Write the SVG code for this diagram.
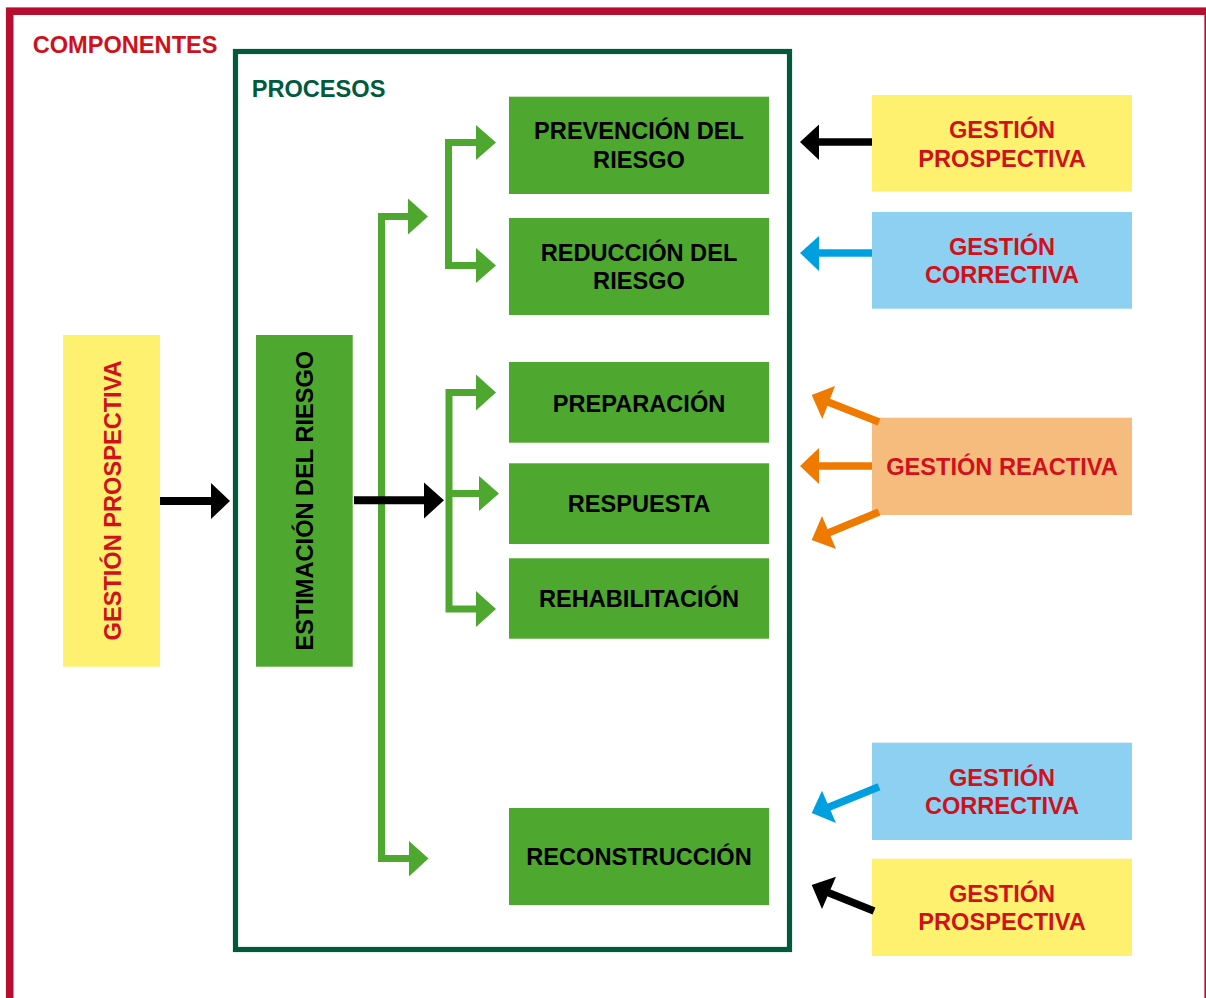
<svg xmlns="http://www.w3.org/2000/svg" width="1206" height="998" viewBox="0 0 1206 998">
<style>
.t{font-family:"Liberation Sans",Arial,sans-serif;font-weight:bold;font-size:23.6px;text-anchor:middle}
.red{fill:#D0111B}
.blk{fill:#000}
.g{fill:#4EA72E}
.y{fill:#FFF170}
.b{fill:#8ED0F2}
.o{fill:#F6BC7E}
.gl{stroke:#4EA72E;stroke-width:7;fill:none}
.kl{stroke:#000;stroke-width:8;fill:none}
.bl{stroke:#009FE0;stroke-width:7.5;fill:none}
.ol{stroke:#EE7A00;stroke-width:7.5;fill:none}
</style>
<rect width="1206" height="998" fill="#fff"/>
<g id="componentes">
<rect x="9.7" y="11.2" width="1198.5" height="1000" fill="none" stroke="#B70D2E" stroke-width="7.6"/>
<text class="t red" x="32.7" y="53.3" style="text-anchor:start">COMPONENTES</text>
</g>
<g id="procesos">
<rect x="235.5" y="51.5" width="554" height="898" fill="none" stroke="#005A3C" stroke-width="5.2"/>
<text class="t" x="251.7" y="96.7" style="text-anchor:start;fill:#005A3C">PROCESOS</text>
</g>
<g id="gp-left">
<rect class="y" x="63" y="335" width="97" height="331.7"/>
<text class="t red" transform="translate(120.7,500.4) rotate(-90)">GESTIÓN PROSPECTIVA</text>
</g>
<g id="estimacion">
<rect class="g" x="256" y="335" width="96.7" height="331.7"/>
<text class="t blk" transform="translate(313.3,500.7) rotate(-90)">ESTIMACIÓN DEL RIESGO</text>
</g>
<g id="prevencion">
<rect class="g" x="509" y="96.7" width="260" height="97.3"/>
<text class="t blk" x="639" y="139">PREVENCIÓN DEL</text>
<text class="t blk" x="639" y="168.3">RIESGO</text>
</g>
<g id="reduccion">
<rect class="g" x="509" y="218" width="260" height="97"/>
<text class="t blk" x="639" y="260.7">REDUCCIÓN DEL</text>
<text class="t blk" x="639" y="289.3">RIESGO</text>
</g>
<g id="preparacion">
<rect class="g" x="509" y="362" width="260" height="80.7"/>
<text class="t blk" x="639" y="412.3">PREPARACIÓN</text>
</g>
<g id="respuesta">
<rect class="g" x="509" y="463.3" width="260" height="80.7"/>
<text class="t blk" x="639" y="512.3">RESPUESTA</text>
</g>
<g id="rehabilitacion">
<rect class="g" x="509" y="558.3" width="260" height="80.4"/>
<text class="t blk" x="639" y="606.7">REHABILITACIÓN</text>
</g>
<g id="reconstruccion">
<rect class="g" x="509" y="808" width="260" height="97"/>
<text class="t blk" x="639" y="865">RECONSTRUCCIÓN</text>
</g>
<g id="gp-top">
<rect class="y" x="872" y="95" width="260" height="96.7"/>
<text class="t red" x="1002" y="137.7">GESTIÓN</text>
<text class="t red" x="1002" y="166.7">PROSPECTIVA</text>
</g>
<g id="gc-top">
<rect class="b" x="872" y="212" width="260" height="96.7"/>
<text class="t red" x="1002" y="255">GESTIÓN</text>
<text class="t red" x="1002" y="283.3">CORRECTIVA</text>
</g>
<g id="gr">
<rect class="o" x="872" y="417.7" width="260" height="97.3"/>
<text class="t red" x="1002" y="475">GESTIÓN REACTIVA</text>
</g>
<g id="gc-bottom">
<rect class="b" x="872" y="742.7" width="260" height="97.3"/>
<text class="t red" x="1002" y="785.5">GESTIÓN</text>
<text class="t red" x="1002" y="814">CORRECTIVA</text>
</g>
<g id="gp-bottom">
<rect class="y" x="872" y="858.7" width="260" height="97.3"/>
<text class="t red" x="1002" y="901.5">GESTIÓN</text>
<text class="t red" x="1002" y="930">PROSPECTIVA</text>
</g>
<g id="connectors">
<path class="gl" d="M409,216.5 H381.5 V858.5 H409"/>
<polygon class="g" points="408,198.5 428,216.5 408,234.5"/>
<polygon class="g" points="409,841 428.5,858.5 409,876.5"/>
<path class="gl" d="M477,142.5 H448.5 V265.5 H477"/>
<polygon class="g" points="476,125 496,142.5 476,160"/>
<polygon class="g" points="476,248 496,265.5 476,283"/>
<path class="gl" d="M477,392.5 H449 V609 H477 M449,493.5 H480"/>
<polygon class="g" points="476,374.5 496,392.5 476,410.5"/>
<polygon class="g" points="479,476 499,493.5 479,511"/>
<polygon class="g" points="476,591 496,609 476,627"/>
<path class="kl" d="M354,500.3 H425"/>
<polygon class="blk" points="424,482.5 444,500.3 424,518.5"/>
<path class="kl" d="M160,501 H212"/>
<polygon class="blk" points="211,483 230,501 211,519"/>
<path class="kl" d="M872,142 H818" style="stroke-width:7.7"/>
<polygon class="blk" points="819,124.5 800,142 819,160"/>
<path class="bl" d="M872,253 H818"/>
<polygon fill="#009FE0" points="819,236 800,253 819,271"/>
<path class="ol" d="M872,466 H818"/>
<polygon fill="#EE7A00" points="819,448 800,466 819,484"/>
<path class="ol" d="M879,422 L828,402"/>
<polygon fill="#EE7A00" points="835,386 811.7,395 822.3,419"/>
<path class="ol" d="M879,512 L828,533"/>
<polygon fill="#EE7A00" points="822,516 811.7,540 836,549"/>
<path class="bl" d="M879,786.7 L828,807.5"/>
<polygon fill="#009FE0" points="822,790.7 811.7,813 836,823"/>
<path class="kl" d="M874,911 L828,892.5" style="stroke-width:7.7"/>
<polygon class="blk" points="836,876.7 811.7,885 822,909"/>
</g>
</svg>
